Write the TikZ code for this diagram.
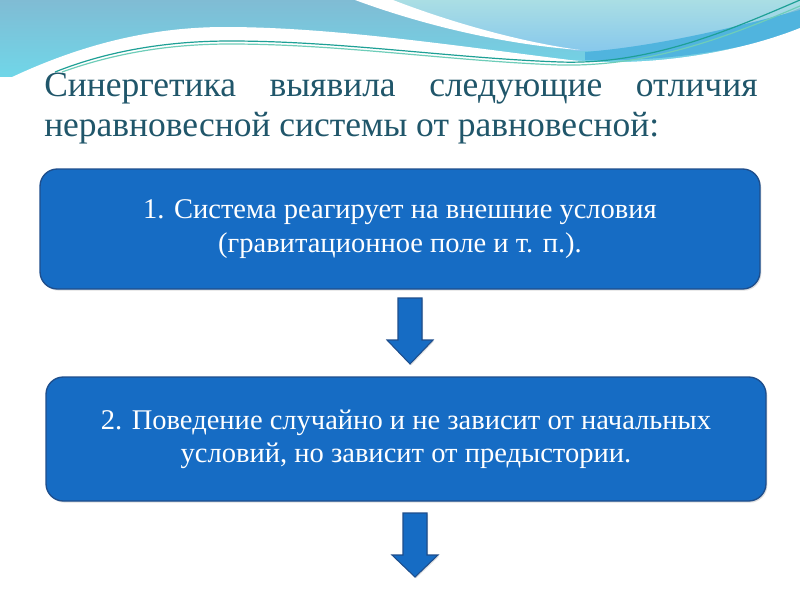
\documentclass[tikz,border=0pt]{standalone}
\usepackage{fontspec}
\setmainfont{Liberation Serif}
\usetikzlibrary{shadows}
\definecolor{bandtop}{RGB}{128,188,212}
\definecolor{bandbot}{RGB}{112,214,232}
\definecolor{lighttop}{RGB}{170,222,228}
\definecolor{lightbot}{RGB}{135,200,236}
\definecolor{darkband}{RGB}{80,180,222}
\definecolor{tealA}{RGB}{30,160,150}
\definecolor{tealB}{RGB}{110,205,185}
\definecolor{titlecol}{RGB}{32,86,106}
\definecolor{boxfill}{RGB}{22,108,196}
\definecolor{boxborder}{RGB}{30,78,140}
\tikzset{
  stepbox/.style={draw=boxborder, line width=1pt, fill=boxfill, rounded corners=13pt,
    text=white, align=center, font=\fontsize{21.4}{25}\selectfont,
    drop shadow={opacity=0.25, shadow xshift=1pt, shadow yshift=-1.2pt}},
  blockarrow/.style={draw=boxborder, line width=0.8pt, fill=boxfill, line join=miter,
    drop shadow={opacity=0.25, shadow xshift=0.8pt, shadow yshift=-1pt}},
  titletext/.style={anchor=base west, inner sep=0pt, text=titlecol, font=\fontsize{26.6}{32}\selectfont}
}
\begin{document}
\begin{tikzpicture}[x=0.75pt,y=-0.75pt]
\useasboundingbox (0,0) rectangle (800,600);
\fill[white] (0,0) rectangle (800,600);
% top decorative band
\shade[top color=bandtop, bottom color=bandbot] (0,0) rectangle (800,76);
\shade[top color=lighttop, bottom color=lightbot] (385,0) -- (800,0) -- (800,8)
  .. controls (720,40) and (640,52) .. (578,51) .. controls (500,40) and (430,15) .. (385,0) -- cycle;
\fill[darkband] (585,52) .. controls (660,46) and (740,26) .. (800,10) -- (800,32)
  .. controls (730,52) and (660,62) .. (585,60) -- cycle;
\fill[white] (355,0) -- (393,0) .. controls (450,22) and (520,42) .. (580,50)
  .. controls (500,44) and (420,24) .. (355,0) -- cycle;
\fill[white] (10,78) .. controls (80,45) and (150,27) .. (225,27)
  .. controls (330,27) and (450,45) .. (570,60) .. controls (650,68) and (740,52) .. (800,28)
  -- (800,82) -- (10,82) -- cycle;
\draw[tealA, line width=0.9pt] (55,72) .. controls (110,50) and (170,41) .. (230,41)
  .. controls (340,41) and (450,58) .. (560,62) .. controls (650,65) and (730,30) .. (800,0);
\draw[tealB, line width=0.9pt] (62,72) .. controls (115,53) and (170,44) .. (230,44)
  .. controls (340,44) and (450,61) .. (560,65) .. controls (650,67) and (730,36) .. (800,6);
% title
\node[titletext] (t1) at (44,96.7) {\makebox[535pt][s]{Синергетика выявила следующие отличия}};
\node[titletext] (t2) at (44,136) {неравновесной системы от равновесной:};
% boxes
\node[stepbox, minimum width=540pt, minimum height=90pt] (b1) at (400,229)
  {1. Система реагирует на внешние условия\\(гравитационное поле и т. п.).};
\node[stepbox, minimum width=540pt, minimum height=93pt] (b2) at (406,439)
  {2. Поведение случайно и не зависит от начальных\\условий, но зависит от предыстории.};
% arrows
\draw[blockarrow] (398,298) -- (422,298) -- (422,340) -- (433,340) -- (410,364)
  -- (387,340) -- (398,340) -- cycle;
\draw[blockarrow] (403,513) -- (427,513) -- (427,555) -- (438,555) -- (415,577)
  -- (392,555) -- (403,555) -- cycle;
\end{tikzpicture}
\end{document}
